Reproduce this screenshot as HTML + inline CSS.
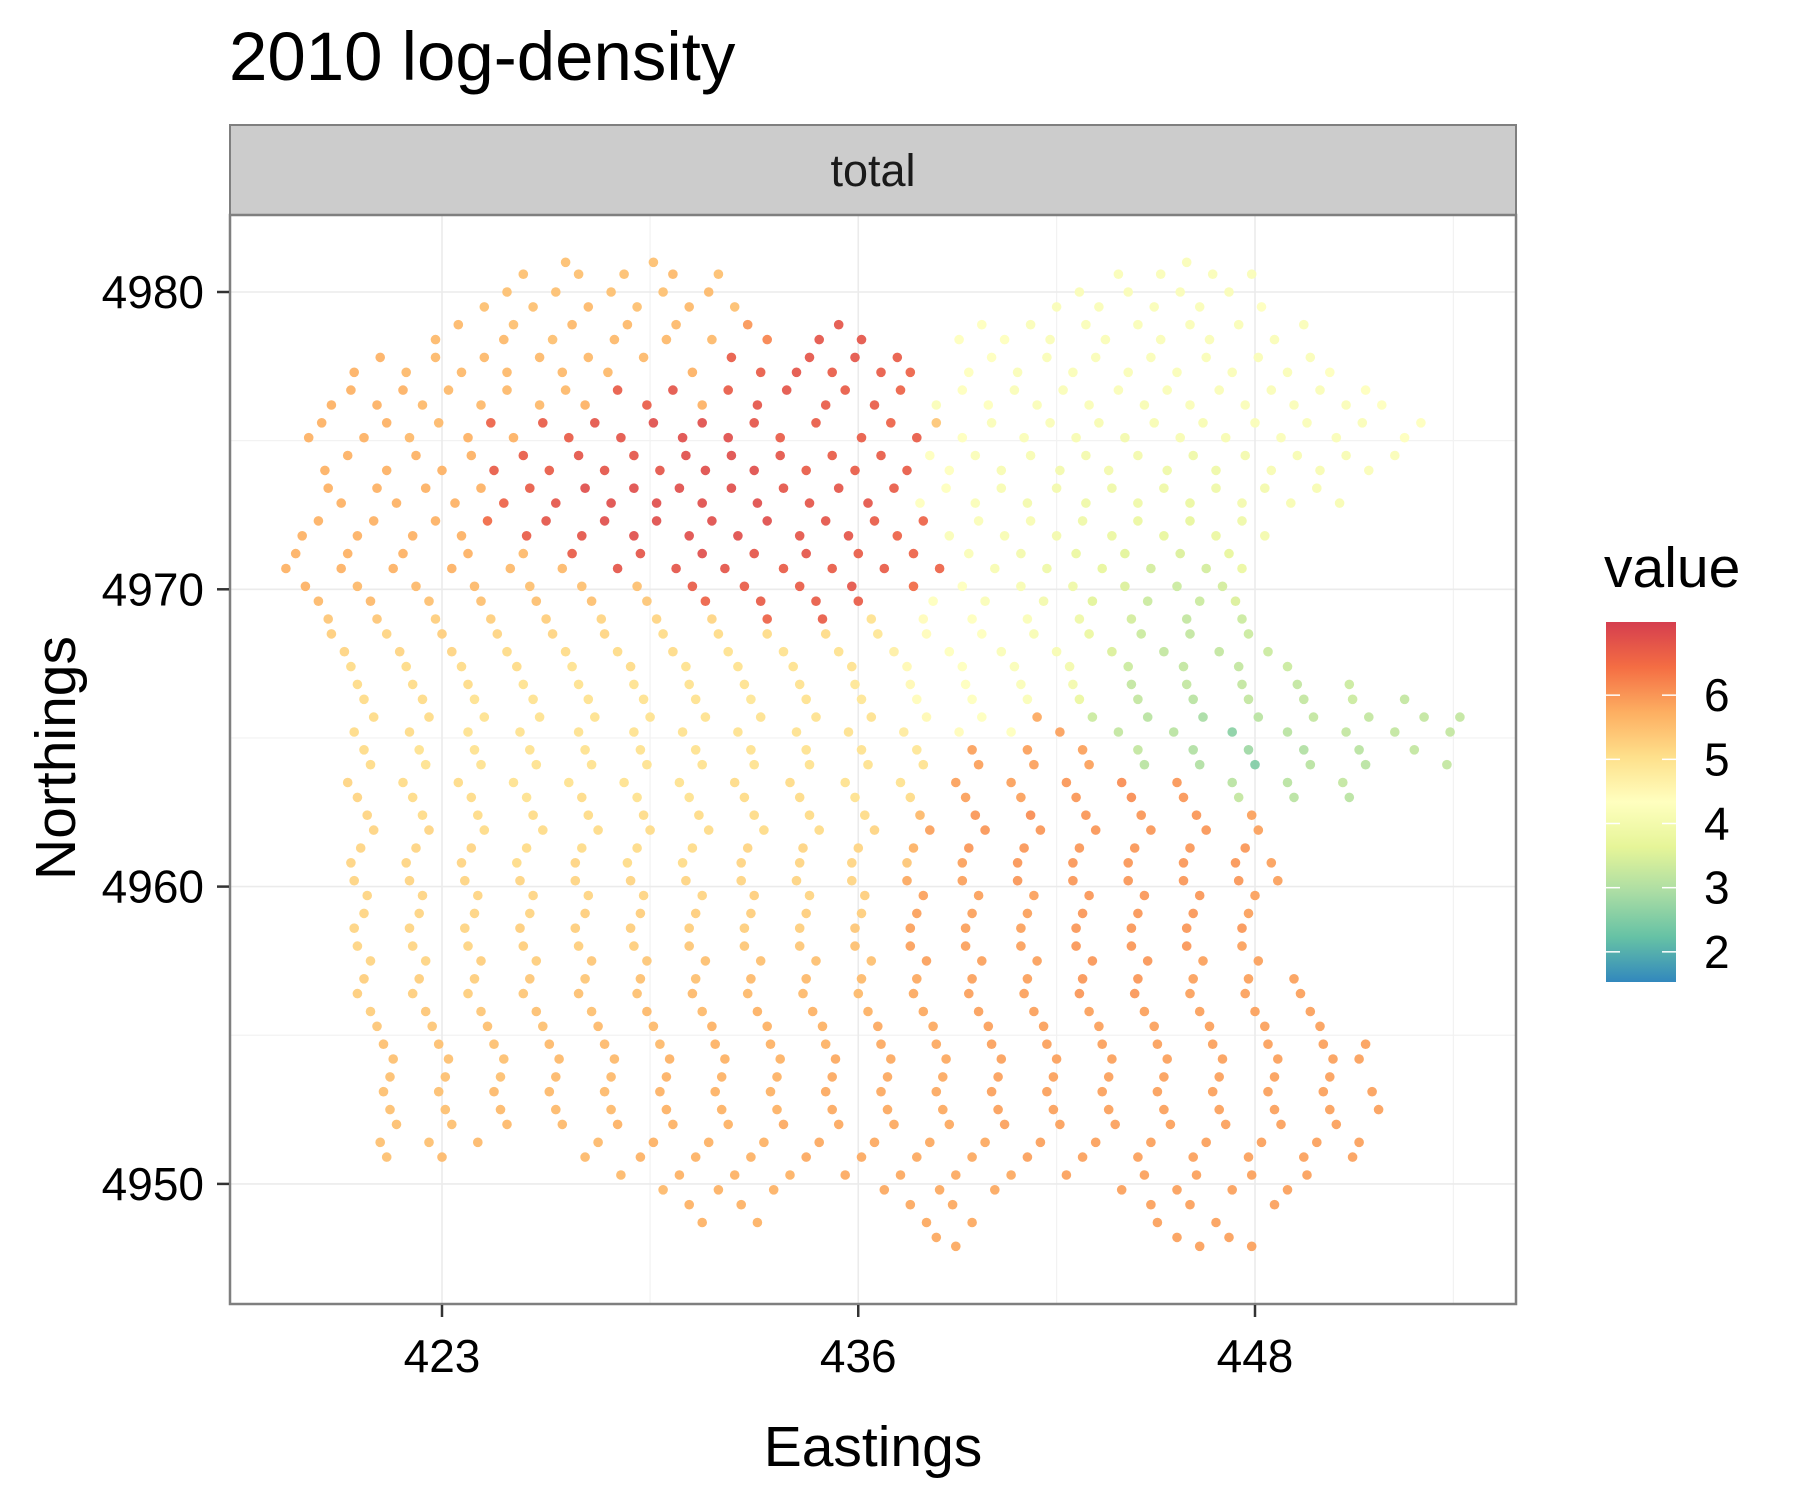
<!DOCTYPE html>
<html><head><meta charset="utf-8"><style>
html,body{margin:0;padding:0;background:#fff;}
svg text{font-family:"Liberation Sans",Arial,sans-serif;}
</style></head><body>
<svg id="chart" width="1800" height="1500" viewBox="0 0 1800 1500" xmlns="http://www.w3.org/2000/svg">
<defs>
<linearGradient id="spec" x1="0" y1="1" x2="0" y2="0">
<stop offset="0" stop-color="#3288BD"/><stop offset="0.125" stop-color="#66C2A5"/><stop offset="0.25" stop-color="#ABDDA4"/><stop offset="0.375" stop-color="#E6F598"/><stop offset="0.5" stop-color="#FFFFBF"/><stop offset="0.625" stop-color="#FEE08B"/><stop offset="0.75" stop-color="#FDAE61"/><stop offset="0.875" stop-color="#F46D43"/><stop offset="1" stop-color="#D53E4F"/>
</linearGradient>
</defs>
<text x="229" y="80" font-size="69" fill="#000">2010 log-density</text>
<rect x="230" y="125" width="1286" height="90" fill="#CCCCCC" stroke="#7F7F7F" stroke-width="2"/>
<text x="873" y="186" font-size="45" text-anchor="middle" fill="#1a1a1a">total</text>
<g id="grid"></g>
<g id="pts"></g>
<rect x="230" y="215" width="1286" height="1089" fill="none" stroke="#7F7F7F" stroke-width="2.5"/>
<g id="axes"></g>
<text x="873" y="1466" font-size="57" text-anchor="middle" fill="#000">Eastings</text>
<text transform="translate(75,758) rotate(-90)" font-size="57" text-anchor="middle" fill="#000">Northings</text>
<text x="1604" y="587" font-size="57" fill="#000">value</text>
<rect x="1606" y="622" width="70" height="360" fill="url(#spec)"/>
<g id="legend"></g>
</svg>
<script>
const xTickValues=[423,435.8,448];
const xTickLabels=["423","436","448"];
const yTickValues=[4980,4970,4960,4950];
const yTickLabels=["4980","4970","4960","4950"];
const legendValues=[2,3,4,5,6];
const rowNorthings=[4980.6,4979.5,4978.4,4977.3,4976.2,4975.1,4974.0,4972.9,4971.8,4970.7,4969.6,4968.5,4967.4,4966.3,4965.2,4964.1,4963.0,4961.9,4960.8,4959.7,4958.6,4957.5,4956.4,4955.3,4954.2,4953.1,4952.0,4950.9,4949.8,4948.7,4947.9,
4981.0,4980.0,4978.9,4977.8,4976.7,4975.6,4974.5,4973.4,4972.3,4971.2,4970.1,4969.0,4967.9,4966.8,4965.7,4964.6,4963.5,4962.4,4961.3,4960.2,4959.1,4958.0,4956.9,4955.8,4954.7,4953.6,4952.5,4951.4,4950.3,4949.3,4948.2];
const rowPoints=[
[425.5,5.5,427.2,5.5,428.6,5.5,430.1,5.6,431.5,5.5,443.8,4.2,445.1,4.2,446.7,4.2,447.9,4.2],
[424.3,5.5,425.8,5.5,427.5,5.6,429.0,5.5,430.6,5.6,432.0,5.5,441.9,4.2,443.2,4.2,444.9,4.2,446.3,4.2,448.2,4.3],
[422.8,5.6,424.9,5.6,426.4,5.5,428.3,5.6,429.9,5.6,431.3,5.6,433.0,6.2,434.6,6.8,435.9,6.8,438.9,4.3,440.3,4.3,441.7,4.2,443.4,4.2,445.1,4.2,446.6,4.2,448.6,4.2],
[420.3,5.7,421.9,5.6,423.6,5.6,425.0,5.6,426.7,5.6,428.1,5.6,430.7,5.7,432.8,6.7,433.9,6.8,435.0,6.7,436.5,6.7,437.4,6.6,439.2,4.3,440.7,4.2,442.4,4.2,444.1,4.2,445.6,4.2,447.3,4.2,449.0,4.2,450.3,4.3],
[419.6,5.7,421.0,5.7,422.4,5.6,424.2,5.6,426.0,5.6,427.4,5.7,429.3,6.7,431.0,5.7,432.7,6.8,434.8,6.7,436.3,6.7,438.2,4.2,439.8,4.3,441.3,4.2,442.9,4.2,444.6,4.1,446.0,4.2,447.7,4.2,449.2,4.2,450.8,4.2,451.9,4.3],
[418.9,5.7,420.6,5.7,422.0,5.6,423.8,5.7,425.2,5.7,426.9,6.7,428.5,6.8,430.4,6.9,431.8,6.9,433.4,6.7,435.9,6.7,437.6,6.7,439.0,4.3,440.9,4.2,442.5,4.1,444.0,4.0,445.7,4.1,447.1,4.1,448.8,4.2,450.5,4.2,452.6,4.3],
[419.4,5.7,421.3,5.7,423.0,5.7,424.6,6.7,426.3,6.7,428.0,6.8,429.7,6.8,431.1,6.9,432.6,6.9,434.2,6.7,435.7,6.7,437.3,6.7,438.6,4.3,440.2,4.1,442.0,4.0,443.5,4.0,445.3,3.9,446.8,3.9,448.5,4.1,450.0,4.1,451.5,4.2],
[419.9,5.7,421.6,5.7,423.4,5.7,424.9,6.6,426.5,6.8,428.2,6.9,429.6,6.9,431.0,6.9,432.7,6.9,434.3,6.8,436.1,6.8,437.7,4.3,439.4,4.2,441.0,4.0,442.8,3.9,444.4,3.9,446.0,3.8,447.6,4.0,449.1,4.1,450.6,4.1],
[418.7,5.7,420.4,5.7,422.1,5.7,423.6,5.7,425.6,6.7,427.3,6.8,428.9,6.9,430.6,6.9,432.1,6.9,434.0,6.8,435.5,6.8,437.0,6.6,438.6,4.2,440.3,4.1,441.9,4.0,443.6,3.8,445.2,3.7,446.8,3.8,448.3,4.0],
[418.2,5.7,419.9,5.7,421.5,5.7,423.3,5.7,425.1,5.6,426.7,5.6,428.4,6.8,430.2,6.8,431.7,6.8,433.5,6.7,435.0,6.7,436.6,6.7,438.3,6.6,440.0,4.1,441.6,3.9,443.3,3.7,444.8,3.4,446.5,3.4,447.6,3.8],
[419.2,5.6,420.8,5.6,422.6,5.5,424.2,5.5,425.9,5.5,427.6,5.5,429.3,5.4,431.1,6.6,432.8,6.7,434.5,6.7,435.8,6.7,438.1,4.3,439.7,4.2,441.5,4.0,443.0,3.6,444.7,3.3,446.3,3.3,447.4,3.5],
[419.6,5.3,421.3,5.2,423.0,5.3,424.7,5.2,426.4,5.2,428.0,5.2,429.8,5.1,431.5,5.1,433.0,5.1,434.8,5.1,436.4,4.9,437.9,4.4,439.6,4.3,441.2,4.1,442.9,3.8,444.5,3.3,446.0,3.2,447.8,3.3],
[420.2,5.1,421.9,5.1,423.6,5.1,425.3,5.1,427.0,5.0,428.8,5.1,430.5,5.0,432.1,5.0,433.8,5.0,435.6,5.0,437.3,4.5,439.0,4.3,440.6,4.2,442.3,4.0,444.1,3.3,445.8,3.2,447.5,3.2,449.0,3.3],
[420.6,5.1,422.4,5.1,424.0,5.0,425.8,5.0,427.5,5.0,429.2,5.0,430.8,5.0,432.5,4.9,434.2,5.0,435.9,4.9,437.6,4.4,439.3,4.3,441.0,4.2,442.6,3.8,444.4,3.2,446.1,3.1,447.8,3.2,449.5,3.2,451.0,3.3,452.6,3.2],
[420.3,5.1,422.0,5.1,423.8,5.0,425.4,5.0,427.2,5.0,428.9,5.0,430.4,5.0,432.1,5.0,433.9,5.0,435.5,5.0,437.2,4.8,438.9,4.4,440.5,4.3,442.0,5.9,443.8,3.2,445.5,3.1,447.3,2.6,449.0,3.1,450.8,3.2,452.3,3.2,454.0,3.2],
[420.8,5.1,422.5,5.0,424.2,5.0,425.9,5.0,427.6,5.0,429.3,5.0,431.0,5.0,432.6,5.0,434.3,5.0,436.1,5.0,437.8,5.0,439.5,5.9,441.2,5.9,442.9,5.9,444.6,3.1,446.3,3.0,448.0,2.5,449.7,3.1,451.4,3.1,453.9,3.2],
[420.4,5.2,422.1,5.1,423.9,5.1,425.6,5.0,427.3,5.1,429.0,5.0,430.6,5.0,432.3,5.1,434.0,5.1,435.7,5.0,437.4,5.1,439.1,5.9,440.8,5.9,442.5,6.0,444.2,6.1,445.8,6.0,447.5,3.2,449.2,3.1,450.9,3.1],
[420.9,5.2,422.6,5.2,424.3,5.1,426.1,5.1,427.8,5.1,429.4,5.1,431.2,5.1,432.9,5.1,434.6,5.1,436.3,5.2,438.0,5.9,439.7,6.0,441.4,6.0,443.1,6.0,444.8,6.0,446.5,6.0,448.1,5.9],
[420.2,5.2,421.9,5.2,423.6,5.2,425.3,5.1,427.1,5.2,428.7,5.1,430.4,5.1,432.2,5.2,434.0,5.2,435.6,5.2,437.3,5.4,439.0,5.9,440.7,6.0,442.4,6.0,444.1,6.0,445.8,6.0,447.4,6.0,448.5,5.9],
[420.7,5.2,422.4,5.2,424.1,5.2,425.8,5.2,427.5,5.2,429.2,5.2,431.0,5.2,432.6,5.3,434.3,5.2,436.0,5.3,437.8,5.9,439.5,5.9,441.2,5.9,442.9,6.0,444.6,6.0,446.3,6.0,448.0,5.9],
[420.3,5.2,422.0,5.2,423.7,5.2,425.4,5.3,427.1,5.3,428.8,5.3,430.6,5.3,432.3,5.3,434.0,5.3,435.7,5.4,437.4,5.9,439.1,5.9,440.8,5.9,442.5,6.0,444.2,6.0,445.9,6.0,447.6,6.0],
[420.8,5.2,422.5,5.2,424.2,5.3,425.9,5.3,427.6,5.4,429.3,5.4,431.1,5.5,432.8,5.5,434.5,5.5,436.2,5.5,437.9,5.9,439.6,5.9,441.3,5.9,443.0,6.0,444.7,6.0,446.4,5.9,448.1,5.9],
[420.4,5.3,422.1,5.3,423.8,5.3,425.5,5.4,427.2,5.5,429.0,5.5,430.7,5.6,432.4,5.6,434.1,5.6,435.8,5.6,437.5,5.8,439.2,5.9,440.9,5.9,442.6,6.0,444.3,6.0,446.0,5.9,447.7,5.9,449.4,5.9],
[421.0,5.4,422.7,5.4,424.4,5.5,426.1,5.5,427.8,5.6,429.5,5.6,431.3,5.7,433.0,5.7,434.7,5.7,436.4,5.8,438.1,5.8,439.8,5.9,441.5,5.9,443.2,5.9,444.9,5.9,446.6,5.9,448.3,5.9,450.0,5.9],
[421.5,5.5,423.2,5.5,424.9,5.5,426.6,5.6,428.3,5.6,430.0,5.7,431.7,5.7,433.4,5.7,435.1,5.8,436.8,5.8,438.5,5.8,440.2,5.9,441.9,5.9,443.6,5.9,445.3,5.9,447.0,5.9,448.7,5.9,450.4,5.9,451.2,5.9],
[421.2,5.5,422.9,5.5,424.6,5.6,426.3,5.6,428.0,5.6,429.7,5.7,431.4,5.7,433.1,5.7,434.8,5.8,436.5,5.8,438.2,5.8,439.9,5.9,441.6,5.9,443.3,5.9,445.0,5.9,446.7,5.9,448.4,5.9,450.1,5.9,451.6,5.9],
[421.6,5.5,423.3,5.5,425.0,5.6,426.7,5.6,428.4,5.7,430.1,5.7,431.8,5.7,433.5,5.8,435.2,5.8,436.9,5.8,438.6,5.8,440.3,5.9,442.0,5.9,443.7,5.9,445.4,5.9,447.1,5.9,448.8,5.9,450.5,5.9],
[421.3,5.5,423.0,5.6,427.4,5.6,429.1,5.7,430.8,5.7,432.5,5.7,434.2,5.8,435.9,5.8,437.6,5.8,439.3,5.8,441.0,5.9,442.7,5.9,444.4,5.9,446.1,5.9,447.8,5.9,449.5,5.9,451.0,5.9],
[429.8,5.6,431.5,5.7,433.2,5.7,436.6,5.8,438.3,5.8,440.0,5.8,443.9,5.9,445.6,5.9,447.3,5.9,449.0,5.9],
[431.0,5.7,432.7,5.7,437.9,5.8,439.3,5.8,445.0,5.9,446.8,5.9],
[438.8,5.8,446.3,5.9,447.9,5.9],
[426.8,5.5,429.5,5.5,445.9,4.2],
[425.0,5.5,426.5,5.5,428.2,5.5,429.8,5.5,431.2,5.6,442.6,4.2,444.1,4.2,445.7,4.2,447.2,4.2],
[423.5,5.6,425.2,5.5,427.0,5.6,428.7,5.6,430.2,5.6,432.4,6.0,435.2,6.8,439.6,4.3,441.1,4.2,442.8,4.2,444.4,4.2,446.0,4.2,447.5,4.2,449.5,4.2],
[421.1,5.7,422.8,5.6,424.3,5.6,426.0,5.6,427.5,5.6,429.2,5.6,431.9,6.7,434.3,6.8,435.7,6.8,437.0,6.7,439.9,4.3,441.6,4.2,443.1,4.2,444.8,4.2,446.5,4.2,448.1,4.2,449.7,4.2],
[420.2,5.7,421.8,5.7,423.2,5.6,425.0,5.6,426.8,5.6,428.4,6.7,430.1,6.8,431.8,6.7,433.6,6.8,435.4,6.7,437.1,6.6,439.0,4.3,440.6,4.2,442.1,4.2,443.8,4.2,445.3,4.2,446.9,4.2,448.5,4.2,450.0,4.2,451.4,4.3],
[419.3,5.7,421.3,5.7,422.9,5.6,424.5,6.6,426.1,6.7,427.7,6.8,429.5,6.9,431.0,6.9,432.6,6.8,434.5,6.7,436.8,6.6,438.2,5.4,439.9,4.2,441.7,4.2,443.2,4.1,444.9,4.1,446.4,4.1,448.0,4.2,449.6,4.2,451.3,4.2,453.1,4.3],
[420.1,5.7,422.2,5.7,423.9,5.7,425.5,6.7,427.2,6.8,428.9,6.8,430.5,6.9,431.9,6.9,433.4,6.8,435.0,6.7,436.5,6.7,438.0,4.3,439.4,4.2,441.1,4.1,442.8,4.0,444.4,4.0,446.1,3.9,447.7,4.0,449.3,4.1,450.8,4.1,452.3,4.2],
[419.5,5.7,421.0,5.7,422.5,5.7,424.2,5.7,425.7,6.7,427.4,6.9,428.9,6.9,430.3,6.9,431.9,6.9,433.5,6.8,435.2,6.8,436.9,6.7,438.5,4.3,440.2,4.1,441.9,4.0,443.6,3.9,445.2,3.9,446.8,3.9,448.3,4.0,449.9,4.1],
[419.2,5.7,420.9,5.7,422.8,5.7,424.4,6.5,426.2,6.8,428.0,6.9,429.6,6.9,431.3,6.9,433.0,6.9,434.8,6.8,436.3,6.7,437.8,6.6,439.5,4.2,441.1,4.1,442.7,3.9,444.4,3.8,446.0,3.7,447.6,3.9],
[418.5,5.7,420.1,5.7,421.8,5.7,423.8,5.7,425.5,5.6,427.0,6.7,429.1,6.8,431.0,6.9,432.6,6.8,434.2,6.8,435.8,6.7,437.5,6.6,439.2,4.2,440.8,4.0,442.5,3.8,444.0,3.6,445.7,3.5,447.2,3.7],
[418.8,5.7,420.4,5.6,422.2,5.6,424.0,5.6,425.7,5.5,427.3,5.5,429.0,5.5,430.7,6.7,432.3,6.7,434.0,6.7,435.6,6.8,437.5,6.5,439.0,4.3,440.8,4.1,442.4,3.9,444.0,3.5,445.6,3.3,447.0,3.4],
[419.5,5.4,421.0,5.4,422.8,5.3,424.5,5.3,426.2,5.3,427.9,5.2,429.6,5.2,431.3,5.2,433.0,6.6,434.7,6.7,436.2,5.0,437.8,4.4,439.3,4.3,441.0,4.2,442.6,3.9,444.2,3.4,445.9,3.2,447.6,3.3],
[420.0,5.2,421.7,5.2,423.3,5.2,425.0,5.1,426.8,5.1,428.4,5.1,430.1,5.1,431.8,5.0,433.5,5.0,435.2,5.0,436.9,4.7,438.6,4.3,440.2,4.2,441.9,4.1,443.6,3.5,445.2,3.2,446.9,3.2,448.4,3.3],
[420.4,5.1,422.1,5.1,423.8,5.1,425.5,5.0,427.2,5.0,428.9,5.0,430.6,5.0,432.3,5.0,434.0,5.0,435.7,4.9,437.4,4.5,439.1,4.3,440.8,4.2,442.4,4.0,444.2,3.2,445.9,3.2,447.6,3.2,449.3,3.2,450.9,3.3],
[420.9,5.1,422.6,5.1,424.3,5.0,426.0,5.0,427.7,5.0,429.4,5.0,431.1,5.0,432.8,5.0,434.5,5.0,436.2,5.0,437.9,4.5,439.6,4.3,441.3,5.8,443.0,3.3,444.7,3.1,446.4,2.9,448.1,3.1,449.8,3.2,451.5,3.2,453.2,3.2,454.3,3.2],
[420.6,5.1,422.3,5.0,424.0,5.0,425.7,5.0,427.4,5.0,429.1,5.0,430.8,5.0,432.5,5.0,434.2,5.0,435.9,5.0,437.6,4.9,439.3,5.9,441.0,5.9,442.7,5.9,444.4,3.2,446.1,3.0,447.8,2.8,449.5,3.0,451.2,3.1,452.9,3.2],
[420.1,5.2,421.8,5.1,423.5,5.1,425.2,5.0,426.9,5.0,428.6,5.0,430.3,5.0,432.0,5.1,433.7,5.1,435.4,5.0,437.1,5.0,438.8,5.9,440.5,5.9,442.2,6.0,443.9,6.1,445.6,6.0,447.3,3.1,449.0,3.1,450.7,3.2],
[420.7,5.2,422.4,5.1,424.1,5.1,425.8,5.1,427.5,5.1,429.2,5.1,430.9,5.1,432.6,5.1,434.3,5.1,436.0,5.1,437.7,5.6,439.4,6.0,441.1,6.1,442.8,6.0,444.5,6.0,446.2,6.0,447.9,5.9],
[420.5,5.2,422.2,5.2,423.9,5.2,425.6,5.1,427.3,5.1,429.0,5.1,430.7,5.1,432.4,5.2,434.1,5.2,435.8,5.2,437.5,5.7,439.2,6.0,440.9,6.0,442.6,6.0,444.3,6.0,446.0,6.0,447.7,6.0],
[420.3,5.2,422.0,5.2,423.7,5.2,425.4,5.2,427.1,5.2,428.8,5.2,430.5,5.2,432.2,5.2,433.9,5.2,435.6,5.2,437.3,5.8,439.0,5.9,440.7,6.0,442.4,6.0,444.1,6.0,445.8,6.0,447.5,6.0,448.7,5.9],
[420.6,5.2,422.3,5.2,424.0,5.2,425.7,5.2,427.4,5.3,429.1,5.3,430.8,5.3,432.5,5.3,434.2,5.3,435.9,5.3,437.6,5.9,439.3,5.9,441.0,5.9,442.7,6.0,444.4,6.0,446.1,6.0,447.8,5.9],
[420.4,5.2,422.1,5.2,423.8,5.2,425.5,5.3,427.2,5.3,428.9,5.3,430.6,5.4,432.3,5.4,434.0,5.4,435.7,5.5,437.4,5.9,439.1,5.9,440.8,5.9,442.5,6.0,444.2,6.0,445.9,6.0,447.6,5.9],
[420.6,5.3,422.3,5.3,424.0,5.3,425.7,5.4,427.4,5.4,429.1,5.5,430.8,5.5,432.5,5.6,434.2,5.6,435.9,5.6,437.6,5.8,439.3,5.9,441.0,5.9,442.7,6.0,444.4,6.0,446.1,5.9,447.8,5.9,449.2,5.9],
[420.8,5.3,422.5,5.4,424.2,5.4,425.9,5.5,427.6,5.5,429.3,5.6,431.0,5.6,432.7,5.7,434.4,5.7,436.1,5.7,437.8,5.8,439.5,5.9,441.2,5.9,442.9,5.9,444.6,5.9,446.3,5.9,448.0,5.9,449.7,5.9],
[421.2,5.5,422.9,5.5,424.6,5.5,426.3,5.6,428.0,5.6,429.7,5.6,431.4,5.7,433.1,5.7,434.8,5.7,436.5,5.8,438.2,5.8,439.9,5.9,441.6,5.9,443.3,5.9,445.0,5.9,446.7,5.9,448.4,5.9,450.1,5.9,451.4,5.9],
[421.4,5.5,423.1,5.5,424.8,5.5,426.5,5.6,428.2,5.6,429.9,5.7,431.6,5.7,433.3,5.7,435.0,5.8,436.7,5.8,438.4,5.8,440.1,5.9,441.8,5.9,443.5,5.9,445.2,5.9,446.9,5.9,448.6,5.9,450.3,5.9],
[421.4,5.5,423.1,5.5,424.8,5.6,426.5,5.6,428.2,5.6,429.9,5.7,431.6,5.7,433.3,5.7,435.0,5.8,436.7,5.8,438.4,5.8,440.1,5.9,441.8,5.9,443.5,5.9,445.2,5.9,446.9,5.9,448.6,5.9,450.3,5.9,451.8,5.9],
[421.1,5.5,422.6,5.5,424.1,5.6,427.8,5.6,429.5,5.7,431.2,5.7,432.9,5.7,434.6,5.8,436.3,5.8,438.0,5.8,439.7,5.8,441.4,5.9,443.1,5.9,444.8,5.9,446.5,5.9,448.2,5.9,449.9,5.9,451.2,5.9],
[428.5,5.6,430.3,5.7,432.0,5.7,433.7,5.7,435.4,5.8,437.1,5.8,438.8,5.8,440.5,5.8,442.2,5.9,444.6,5.9,446.2,5.9,447.9,5.9,449.6,5.9],
[430.6,5.7,432.2,5.7,437.4,5.8,438.7,5.8,444.8,5.9,446.0,5.9,448.6,5.9],
[438.2,5.8,445.6,5.9,447.2,5.9]
];
const NS="http://www.w3.org/2000/svg";
const X0=230,X1=1516,Y0=215,Y1=1304;
function xs(e){return 442+(e-423)*32.52;}
function ys(n){return 292+(4980-n)*29.73;}
const vMin=1.53,vMax=7.14;
const stops=["#3288BD","#66C2A5","#ABDDA4","#E6F598","#FFFFBF","#FEE08B","#FDAE61","#F46D43","#D53E4F"];
function hex(h){return [parseInt(h.slice(1,3),16),parseInt(h.slice(3,5),16),parseInt(h.slice(5,7),16)];}
function col(v){let t=(v-vMin)/(vMax-vMin);t=Math.max(0,Math.min(1,t))*(stops.length-1);
const i=Math.min(stops.length-2,Math.floor(t)),f=t-i;const a=hex(stops[i]),b=hex(stops[i+1]);
return "rgb("+a.map((c,k)=>Math.round(c+(b[k]-c)*f)).join(",")+")";}
function legY(v){return 982-(v-vMin)/(vMax-vMin)*360;}
function mk(tag,attrs,parent){const el=document.createElementNS(NS,tag);for(const k in attrs)el.setAttribute(k,attrs[k]);parent.appendChild(el);return el;}
const grid=document.getElementById('grid');
const bg=mk('rect',{x:X0,y:Y0,width:X1-X0,height:Y1-Y0,fill:'#fff'},grid);


const xMinor=[(xTickValues[0]+xTickValues[1])/2,(xTickValues[1]+xTickValues[2])/2,xTickValues[2]+(xTickValues[2]-xTickValues[1])/2];
xMinor.forEach(v=>{const l=mk('line',{x1:xs(v),x2:xs(v),y1:Y0,y2:Y1,stroke:'#F2F2F2','stroke-width':1.2},grid);

});
const yMinor=[4975,4965,4955];
yMinor.forEach(v=>{const l=mk('line',{x1:X0,x2:X1,y1:ys(v),y2:ys(v),stroke:'#F2F2F2','stroke-width':1.2},grid);

});
xTickValues.forEach(v=>{const l=mk('line',{x1:xs(v),x2:xs(v),y1:Y0,y2:Y1,stroke:'#EBEBEB','stroke-width':1.6},grid);

});
yTickValues.forEach(v=>{const l=mk('line',{x1:X0,x2:X1,y1:ys(v),y2:ys(v),stroke:'#EBEBEB','stroke-width':1.6},grid);

});
const pg=document.getElementById('pts');
rowNorthings.forEach((n,r)=>{const arr=rowPoints[r];for(let i=0;i<arr.length;i+=2){
const c=mk('circle',{cx:xs(arr[i]).toFixed(1),cy:ys(n).toFixed(1),r:4.8,fill:col(arr[i+1]),'fill-opacity':0.92},pg);

}});
const ax=document.getElementById('axes');
xTickValues.forEach((v,i)=>{const t=mk('line',{x1:xs(v),x2:xs(v),y1:Y1+1,y2:Y1+13,stroke:'#333','stroke-width':2.5},ax);


const tx=mk('text',{x:xs(v),y:Y1+68,'font-size':46,'text-anchor':'middle',fill:'#000'},ax);tx.textContent=xTickLabels[i];

});
yTickValues.forEach((v,i)=>{const t=mk('line',{x1:X0-13,x2:X0-1,y1:ys(v),y2:ys(v),stroke:'#333','stroke-width':2.5},ax);


const tx=mk('text',{x:X0-26,y:ys(v)+16,'font-size':46,'text-anchor':'end',fill:'#000'},ax);tx.textContent=yTickLabels[i];

});
const lg=document.getElementById('legend');
legendValues.forEach(v=>{const y=legY(v);
const a=mk('line',{x1:1606,x2:1620,y1:y,y2:y,stroke:'#fff','stroke-width':1.5},lg);


const b=mk('line',{x1:1662,x2:1676,y1:y,y2:y,stroke:'#fff','stroke-width':1.5},lg);


const tx=mk('text',{x:1704,y:y+16,'font-size':46,fill:'#000'},lg);tx.textContent=String(v);

});
</script>
</body></html>
